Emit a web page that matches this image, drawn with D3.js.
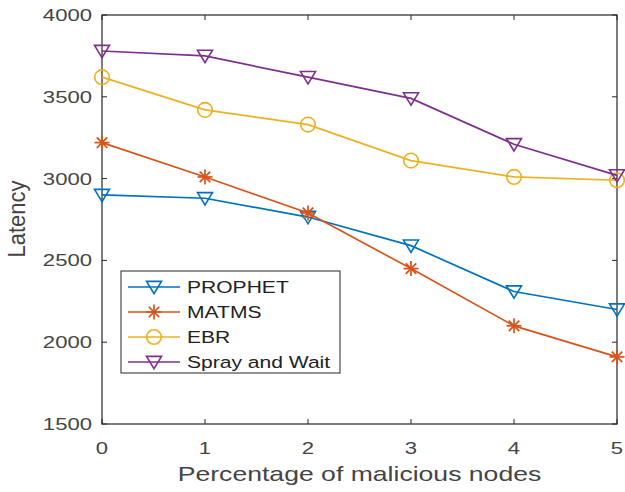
<!DOCTYPE html>
<html>
<head>
<meta charset="utf-8">
<script src="https://cdn.jsdelivr.net/npm/d3@7/dist/d3.min.js"></script>
<style>
  html, body { margin: 0; padding: 0; background: #fff; }
  svg { display: block; font-family: "Liberation Sans", Arial, sans-serif; }
</style>
</head>
<body>
<svg id="chart" width="625" height="492"></svg>
<script>
// Latency versus share of malicious nodes, four routing protocols
const xValues = [0, 1, 2, 3, 4, 5];
const xTicks = [0, 1, 2, 3, 4, 5];
const yTicks = [1500, 2000, 2500, 3000, 3500, 4000];

const prophet = [2900, 2880, 2765, 2590, 2310, 2200];
const matms   = [3220, 3010, 2790, 2450, 2100, 1910];
const ebr     = [3620, 3420, 3330, 3110, 3010, 2990];
const spray   = [3780, 3750, 3620, 3490, 3210, 3020];

const seriesNames = ["PROPHET", "MATMS", "EBR", "Spray and Wait"];
const seriesColors = ["#0072BD", "#D95319", "#EDB120", "#7E2F8E"];
const seriesMarkers = ["triangle", "star", "circle", "triangle"];
const seriesValues = [prophet, matms, ebr, spray];

const svg = d3.select("#chart");
const plotL = 102, plotR = 617, plotT = 15, plotB = 424;

const x = d3.scaleLinear().domain([0, 5]).range([plotL, plotR]);
const y = d3.scaleLinear().domain([1500, 4000]).range([plotB, plotT]);

// Text with a wide (horizontally stretched) face
function wideText(parent, px, py, str, size, sx, anchor, color, rotate) {
  const t = parent.append("g")
    .attr("transform", `translate(${px},${py}) scale(${sx},1)` + (rotate ? ` rotate(${rotate})` : ""));
  t.append("text")
    .attr("x", 0).attr("y", 0)
    .attr("text-anchor", anchor)
    .attr("font-size", size)
    .attr("fill", color)
    .text(str);
  return t;
}

// Frame with inward ticks on all four sides
const g = svg.append("g");
g.append("rect")
  .attr("x", plotL).attr("y", plotT)
  .attr("width", plotR - plotL).attr("height", plotB - plotT)
  .attr("fill", "none").attr("stroke", "#262626").attr("stroke-width", 1.2);

const tickLen = 5;
g.selectAll(".xtb").data(xTicks).enter().append("line")
  .attr("x1", d => x(d)).attr("x2", d => x(d))
  .attr("y1", plotB).attr("y2", plotB - tickLen)
  .attr("stroke", "#262626");
g.selectAll(".xtt").data(xTicks).enter().append("line")
  .attr("x1", d => x(d)).attr("x2", d => x(d))
  .attr("y1", plotT).attr("y2", plotT + tickLen)
  .attr("stroke", "#262626");
g.selectAll(".ytl").data(yTicks).enter().append("line")
  .attr("x1", plotL).attr("x2", plotL + tickLen)
  .attr("y1", d => y(d)).attr("y2", d => y(d))
  .attr("stroke", "#262626");
g.selectAll(".ytr").data(yTicks).enter().append("line")
  .attr("x1", plotR).attr("x2", plotR - tickLen)
  .attr("y1", d => y(d)).attr("y2", d => y(d))
  .attr("stroke", "#262626");

// Tick labels
const tickColor = "#444";
xTicks.forEach(d => wideText(g, x(d), plotB + 30, d, 17, 1.3, "middle", tickColor));
yTicks.forEach(d => wideText(g, plotL - 10, y(d) + 6, d, 17, 1.3, "end", tickColor));

// Axis titles
wideText(svg, (plotL + plotR) / 2, 481, "Percentage of malicious nodes", 20, 1.33, "middle", tickColor);
wideText(svg, 25, 219, "Latency", 22, 1.12, "middle", tickColor, -90);

// Marker drawing
function drawMarker(sel, type, color, cx, cy) {
  if (type === "triangle") {
    const s = 7.5;
    sel.append("path")
      .attr("d", `M${cx - s},${cy - s * 0.75} L${cx + s},${cy - s * 0.75} L${cx},${cy + s * 0.9} Z`)
      .attr("fill", "none").attr("stroke", color).attr("stroke-width", 1.6);
  } else if (type === "circle") {
    sel.append("circle")
      .attr("cx", cx).attr("cy", cy).attr("r", 7.3)
      .attr("fill", "none").attr("stroke", color).attr("stroke-width", 1.6);
  } else if (type === "star") {
    const s = 7.5;
    const parts = [
      [cx - s, cy, cx + s, cy],
      [cx, cy - s, cx, cy + s],
      [cx - s * 0.7, cy - s * 0.7, cx + s * 0.7, cy + s * 0.7],
      [cx - s * 0.7, cy + s * 0.7, cx + s * 0.7, cy - s * 0.7]
    ];
    parts.forEach(p => sel.append("line")
      .attr("x1", p[0]).attr("y1", p[1]).attr("x2", p[2]).attr("y2", p[3])
      .attr("stroke", color).attr("stroke-width", 1.7));
  }
}

const line = d3.line().x((d, i) => x(xValues[i])).y(d => y(d));

seriesValues.forEach((vals, k) => {
  const sg = svg.append("g");
  sg.append("path")
    .attr("d", line(vals))
    .attr("fill", "none")
    .attr("stroke", seriesColors[k])
    .attr("stroke-width", 1.7);
  vals.forEach((v, i) => drawMarker(sg, seriesMarkers[k], seriesColors[k], x(xValues[i]), y(v)));
});

// Legend
const lg = svg.append("g");
lg.append("rect")
  .attr("x", 121).attr("y", 271).attr("width", 219).attr("height", 102)
  .attr("fill", "#fff").attr("stroke", "#262626").attr("stroke-width", 1);
seriesNames.forEach((name, k) => {
  const cy = 287 + k * 25;
  lg.append("line")
    .attr("x1", 128).attr("x2", 180).attr("y1", cy).attr("y2", cy)
    .attr("stroke", seriesColors[k]).attr("stroke-width", 1.7);
  drawMarker(lg, seriesMarkers[k], seriesColors[k], 154, cy);
  wideText(lg, 187, cy + 6, name, 17, 1.24, "start", "#222");
});
</script>
</body>
</html>
